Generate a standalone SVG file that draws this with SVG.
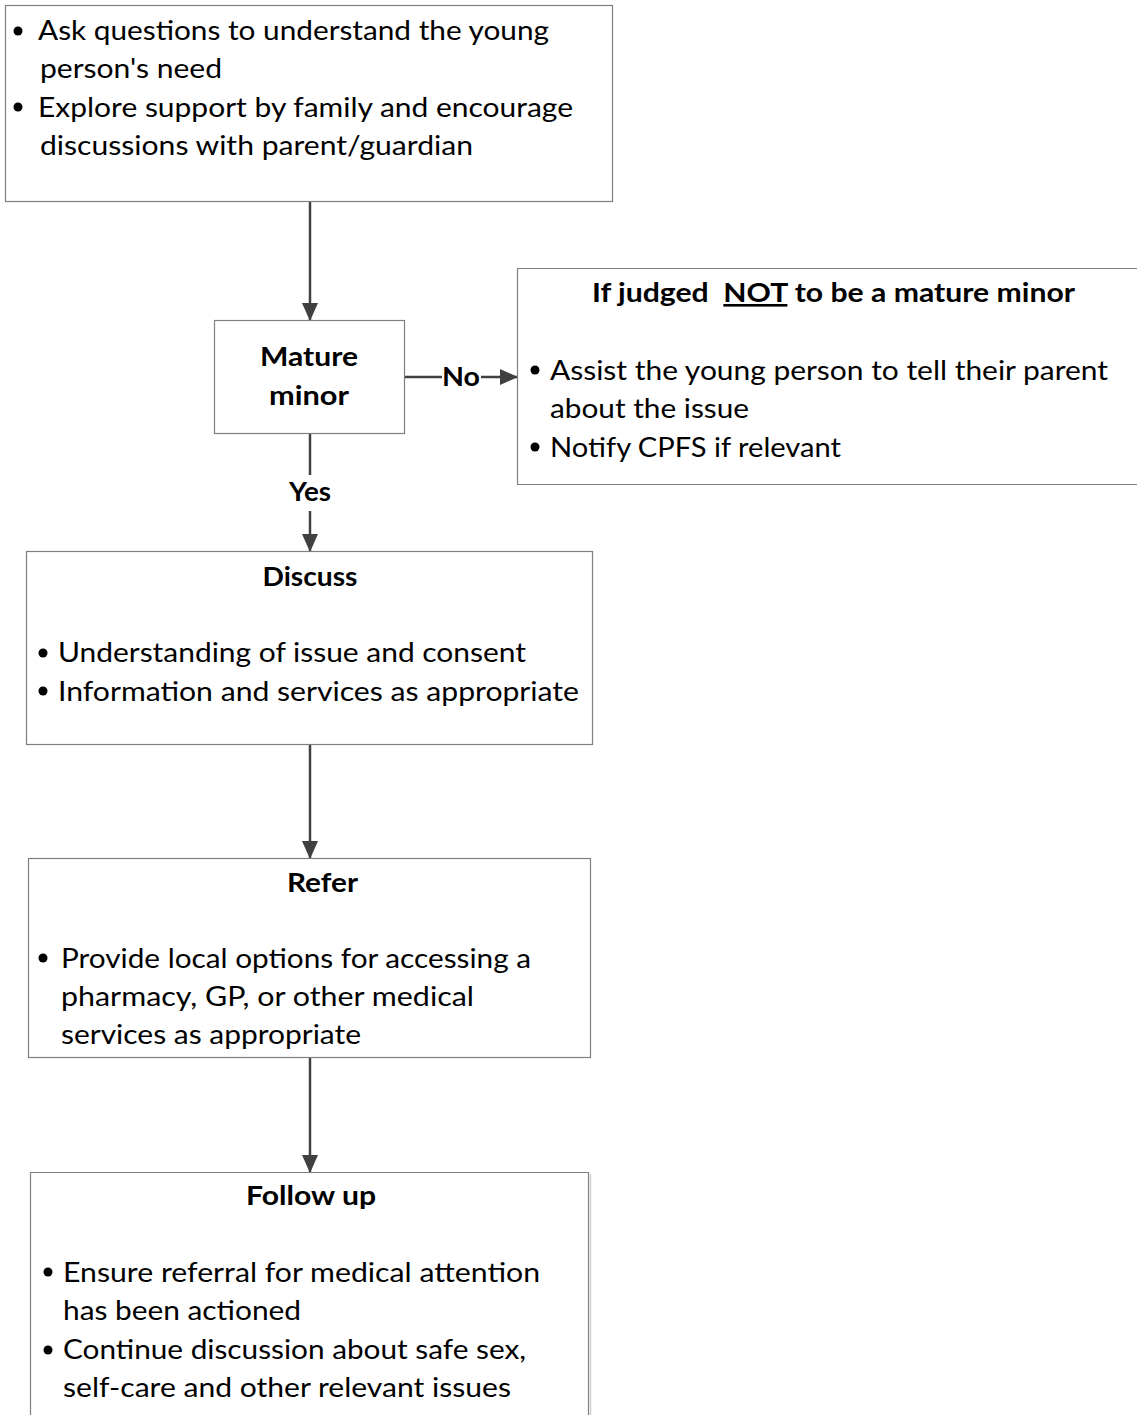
<svg xmlns="http://www.w3.org/2000/svg" width="1137" height="1415" viewBox="0 0 1137 1415">
<defs>
<marker id="ahv" markerWidth="18" markerHeight="16" refX="17" refY="8" orient="auto" markerUnits="userSpaceOnUse" viewBox="0 0 18 16">
<path d="M0,0 L18,8 L0,16 Z" fill="#404040"/>
</marker>
</defs>
<style>
.box{fill:#ffffff;stroke:#7f7f7f;stroke-width:1.2}
.t{font-family:Lato,"Open Sans","Liberation Sans",sans-serif;font-size:26px;fill:#000}
.b{font-family:Lato,"Open Sans","Liberation Sans",sans-serif;font-size:26px;font-weight:bold;fill:#000}
.dot{fill:#000}
.c{stroke:#404040;stroke-width:2.5;fill:none}
</style>
<rect width="1137" height="1415" fill="#ffffff"/>
<g id="connectors">
<line class="c" x1="310" y1="201" x2="310" y2="320" marker-end="url(#ahv)"/>
<line class="c" x1="404" y1="377" x2="442" y2="377"/>
<line class="c" x1="481" y1="377" x2="517" y2="377" marker-end="url(#ahv)"/>
<line class="c" x1="310" y1="433" x2="310" y2="475"/>
<line class="c" x1="310" y1="511" x2="310" y2="551" marker-end="url(#ahv)"/>
<line class="c" x1="310" y1="745" x2="310" y2="858" marker-end="url(#ahv)"/>
<line class="c" x1="310" y1="1058" x2="310" y2="1172" marker-end="url(#ahv)"/>
<text class="b" x="461" y="386" text-anchor="middle" textLength="38" lengthAdjust="spacingAndGlyphs">No</text>
<text class="b" x="310" y="501" text-anchor="middle" textLength="42" lengthAdjust="spacingAndGlyphs">Yes</text>
</g>
<g id="n1">
<rect class="box" x="5.5" y="5.5" width="607" height="196"/>
<circle class="dot" cx="18" cy="31" r="4.5"/>
<text class="t" x="38" y="40" textLength="511" lengthAdjust="spacingAndGlyphs">Ask questions to understand the young</text>
<text class="t" x="40" y="78" textLength="182" lengthAdjust="spacingAndGlyphs">person's need</text>
<circle class="dot" cx="18" cy="107" r="4.5"/>
<text class="t" x="38" y="117" textLength="535" lengthAdjust="spacingAndGlyphs">Explore support by family and encourage</text>
<text class="t" x="40" y="155" textLength="433" lengthAdjust="spacingAndGlyphs">discussions with parent/guardian</text>
</g>
<g id="n2">
<rect class="box" x="214.5" y="320.5" width="190" height="113"/>
<text class="b" x="309" y="366" text-anchor="middle" textLength="98" lengthAdjust="spacingAndGlyphs">Mature</text>
<text class="b" x="309" y="405" text-anchor="middle" textLength="80" lengthAdjust="spacingAndGlyphs">minor</text>
</g>
<g id="n3">
<path class="box" d="M1140,268.5 H517.5 V484.5 H1140"/>
<text class="b" x="592" y="302" textLength="483" lengthAdjust="spacingAndGlyphs" xml:space="preserve">If judged  <tspan text-decoration="underline">NOT</tspan> to be a mature minor</text>
<circle class="dot" cx="535" cy="370" r="4.5"/>
<text class="t" x="550" y="380" textLength="558" lengthAdjust="spacingAndGlyphs">Assist the young person to tell their parent</text>
<text class="t" x="550" y="418" textLength="199" lengthAdjust="spacingAndGlyphs">about the issue</text>
<circle class="dot" cx="535" cy="447" r="4.5"/>
<text class="t" x="550" y="457" textLength="291" lengthAdjust="spacingAndGlyphs">Notify CPFS if relevant</text>
</g>
<g id="n4">
<rect class="box" x="26.5" y="551.5" width="566" height="193"/>
<text class="b" x="310" y="586" text-anchor="middle" textLength="95" lengthAdjust="spacingAndGlyphs">Discuss</text>
<circle class="dot" cx="43" cy="653" r="4.5"/>
<text class="t" x="58" y="662" textLength="468" lengthAdjust="spacingAndGlyphs">Understanding of issue and consent</text>
<circle class="dot" cx="43" cy="691" r="4.5"/>
<text class="t" x="58" y="701" textLength="521" lengthAdjust="spacingAndGlyphs">Information and services as appropriate</text>
</g>
<g id="n5">
<rect class="box" x="28.5" y="858.5" width="562" height="199"/>
<text class="b" x="322.5" y="892" text-anchor="middle" textLength="71" lengthAdjust="spacingAndGlyphs">Refer</text>
<circle class="dot" cx="43" cy="958" r="4.5"/>
<text class="t" x="61" y="968" textLength="470" lengthAdjust="spacingAndGlyphs">Provide local options for accessing a</text>
<text class="t" x="61" y="1006" textLength="413" lengthAdjust="spacingAndGlyphs">pharmacy, GP, or other medical</text>
<text class="t" x="61" y="1044" textLength="300" lengthAdjust="spacingAndGlyphs">services as appropriate</text>
</g>
<g id="n6">
<path class="box" d="M30.5,1420 V1172.5 H588.5 V1420"/>
<line x1="590.5" y1="1174" x2="590.5" y2="1420" stroke="#d0d0d0" stroke-width="1.5"/>
<text class="b" x="311" y="1205" text-anchor="middle" textLength="130" lengthAdjust="spacingAndGlyphs">Follow up</text>
<circle class="dot" cx="48" cy="1272" r="4.5"/>
<text class="t" x="63" y="1282" textLength="477" lengthAdjust="spacingAndGlyphs">Ensure referral for medical attention</text>
<text class="t" x="63" y="1320" textLength="238" lengthAdjust="spacingAndGlyphs">has been actioned</text>
<circle class="dot" cx="48" cy="1350" r="4.5"/>
<text class="t" x="63" y="1359" textLength="463" lengthAdjust="spacingAndGlyphs">Continue discussion about safe sex,</text>
<text class="t" x="63" y="1397" textLength="448" lengthAdjust="spacingAndGlyphs">self-care and other relevant issues</text>
</g>
</svg>
